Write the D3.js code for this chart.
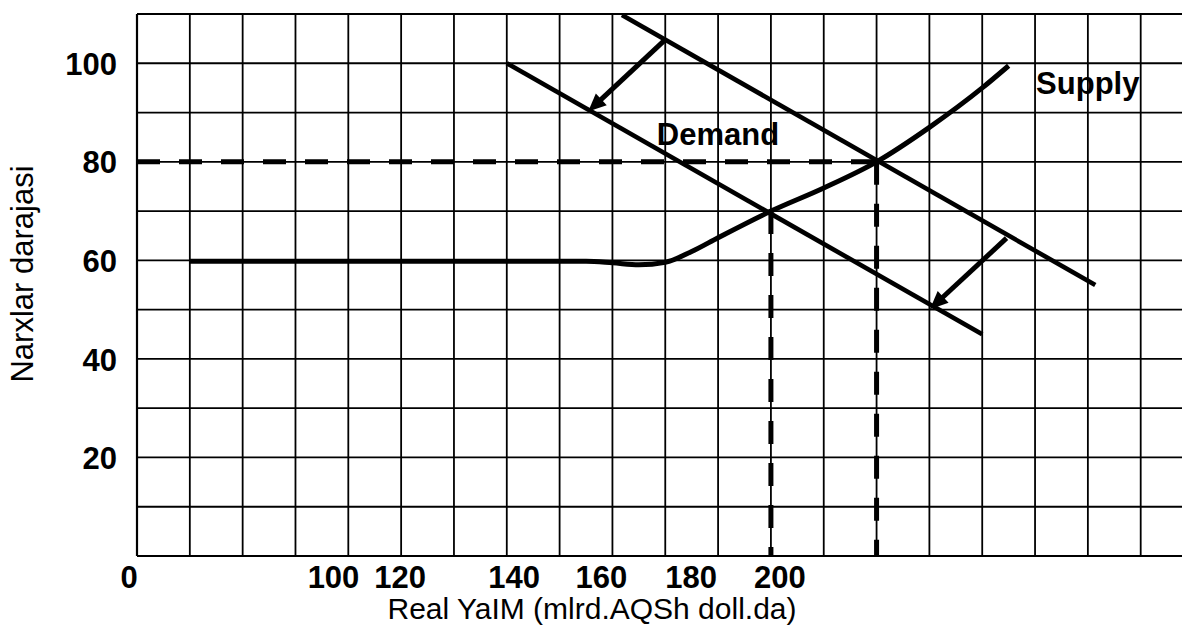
<!DOCTYPE html>
<html>
<head>
<meta charset="utf-8">
<script src="https://cdn.jsdelivr.net/npm/d3@7"></script>
<style>
  html, body { margin: 0; padding: 0; background: #fff; }
  svg { display: block; }
  text { font-family: "Liberation Sans", Arial, sans-serif; fill: #000; }
</style>
</head>
<body>
<svg id="chart" width="1182" height="627"></svg>
<script>
// ---- data ----
const xTickLabels = ["0", "100", "120", "140", "160", "180", "200"];
const xTickPos = [-0.16, 3.71, 4.97, 7.13, 8.78, 10.48, 12.16];   // in grid units
const yTicks = [20, 40, 60, 80, 100];
const gridXValues = d3.range(0, 20);        // vertical grid lines (grid units)
const gridYValues = d3.range(0, 120, 10);   // horizontal grid lines (price)

const supplyX = [1, 8.5, 9.0, 9.5, 10.0, 10.5, 11, 12, 13, 14, 15, 16, 16.5];
const supplyY = [59.8, 59.8, 59.5, 59.1, 59.6, 61.8, 64.6, 70, 74.7, 80, 87, 95, 99.5];

const demand1X = [7, 16];
const demand1Y = [100, 45];
const demand2X = [9.18, 18.14];
const demand2Y = [109.8, 55];

const arrowFromX = [9.99, 16.46];
const arrowFromY = [104.7, 64.5];
const arrowToX = [8.54, 15.01];
const arrowToY = [90.2, 50.1];

const eqX = [12, 14];
const eqY = [70, 80];

// ---- chart ----
const W = 1182, H = 627;
const svg = d3.select("#chart");
const x = d3.scaleLinear().domain([0, 19]).range([137, 1140.7]);
const y = d3.scaleLinear().domain([0, 110]).range([556, 14]);
const xRightEdge = x.invert(W);

// grid
svg.append("g").selectAll("line").data(gridYValues).join("line")
  .attr("x1", x(0)).attr("x2", x(xRightEdge))
  .attr("y1", d => y(d)).attr("y2", d => y(d))
  .attr("stroke", "#000").attr("stroke-width", d => (d === 0 || d === 110) ? 2.2 : 1.8);
svg.append("g").selectAll("line").data(gridXValues).join("line")
  .attr("x1", d => x(d)).attr("x2", d => x(d))
  .attr("y1", y(110)).attr("y2", y(0))
  .attr("stroke", "#000").attr("stroke-width", d => d === 0 ? 2.2 : 1.8);

// dashed equilibrium guides
const dash = "23,19";
svg.append("line")
  .attr("x1", x(0)).attr("x2", x(eqX[1]))
  .attr("y1", y(eqY[1])).attr("y2", y(eqY[1]))
  .attr("stroke", "#000").attr("stroke-width", 5).attr("stroke-dasharray", dash);
svg.append("g").selectAll("line").data(eqX).join("line")
  .attr("x1", d => x(d)).attr("x2", d => x(d))
  .attr("y1", (d, i) => y(eqY[i])).attr("y2", y(0))
  .attr("stroke", "#000").attr("stroke-width", 5).attr("stroke-dasharray", dash);

// demand lines
const lineGen = d3.line().x(d => x(d[0])).y(d => y(d[1]));
[[demand1X, demand1Y], [demand2X, demand2Y]].forEach(([xs, ys]) => {
  svg.append("path")
    .attr("d", lineGen(xs.map((v, i) => [v, ys[i]])))
    .attr("fill", "none").attr("stroke", "#000").attr("stroke-width", 4.6);
});

// supply curve
svg.append("path")
  .attr("d", d3.line().x(d => x(d[0])).y(d => y(d[1])).curve(d3.curveMonotoneX)(supplyX.map((v, i) => [v, supplyY[i]])))
  .attr("fill", "none").attr("stroke", "#000").attr("stroke-width", 5).attr("stroke-linecap", "butt");

// arrows
const headLen = 18, headW = 16;
arrowFromX.forEach((fx, i) => {
  const x1 = x(fx), y1 = y(arrowFromY[i]);
  const x2 = x(arrowToX[i]), y2 = y(arrowToY[i]);
  const dx = x2 - x1, dy = y2 - y1, L = Math.hypot(dx, dy);
  const ux = dx / L, uy = dy / L;
  const bx = x2 - ux * headLen, by = y2 - uy * headLen;
  svg.append("line")
    .attr("x1", x1).attr("y1", y1)
    .attr("x2", bx + ux * 2).attr("y2", by + uy * 2)
    .attr("stroke", "#000").attr("stroke-width", 5);
  const px = -uy, py = ux;
  svg.append("path")
    .attr("d", `M${x2},${y2}L${bx + px * headW / 2},${by + py * headW / 2}L${bx - px * headW / 2},${by - py * headW / 2}Z`)
    .attr("fill", "#000");
});

// curve labels
svg.append("text").attr("x", x(17.02)).attr("y", y(93.8))
  .attr("font-size", 31).attr("font-weight", "bold").text("Supply");
svg.append("text").attr("x", x(9.84)).attr("y", y(83.5))
  .attr("font-size", 31).attr("font-weight", "bold").text("Demand");

// y axis labels
const yAxis = d3.axisLeft(y).tickValues(yTicks).tickSize(0).tickPadding(0);
const yg = svg.append("g").attr("transform", "translate(117,0)").call(yAxis);
yg.select(".domain").remove();
yg.selectAll("text").attr("font-size", 31).attr("font-weight", "bold")
  .attr("font-family", "Liberation Sans, Arial, sans-serif").attr("fill", "#000")
  .attr("dy", "0.36em");

// x axis labels
const xAxis = d3.axisBottom(x).tickValues(xTickPos).tickSize(0).tickPadding(0)
  .tickFormat((d, i) => xTickLabels[i]);
const xg = svg.append("g").attr("transform", "translate(0,566)").call(xAxis);
xg.select(".domain").remove();
xg.selectAll("text").attr("font-size", 31).attr("font-weight", "bold")
  .attr("font-family", "Liberation Sans, Arial, sans-serif").attr("fill", "#000")
  .attr("dy", "0.71em");

// axis titles
svg.append("text").attr("x", 592).attr("y", 619).attr("text-anchor", "middle")
  .attr("font-size", 30).text("Real YaIM (mlrd.AQSh doll.da)");
svg.append("text").attr("transform", "translate(33,274) rotate(-90)").attr("text-anchor", "middle")
  .attr("font-size", 31).text("Narxlar darajasi");
</script>
</body>
</html>
